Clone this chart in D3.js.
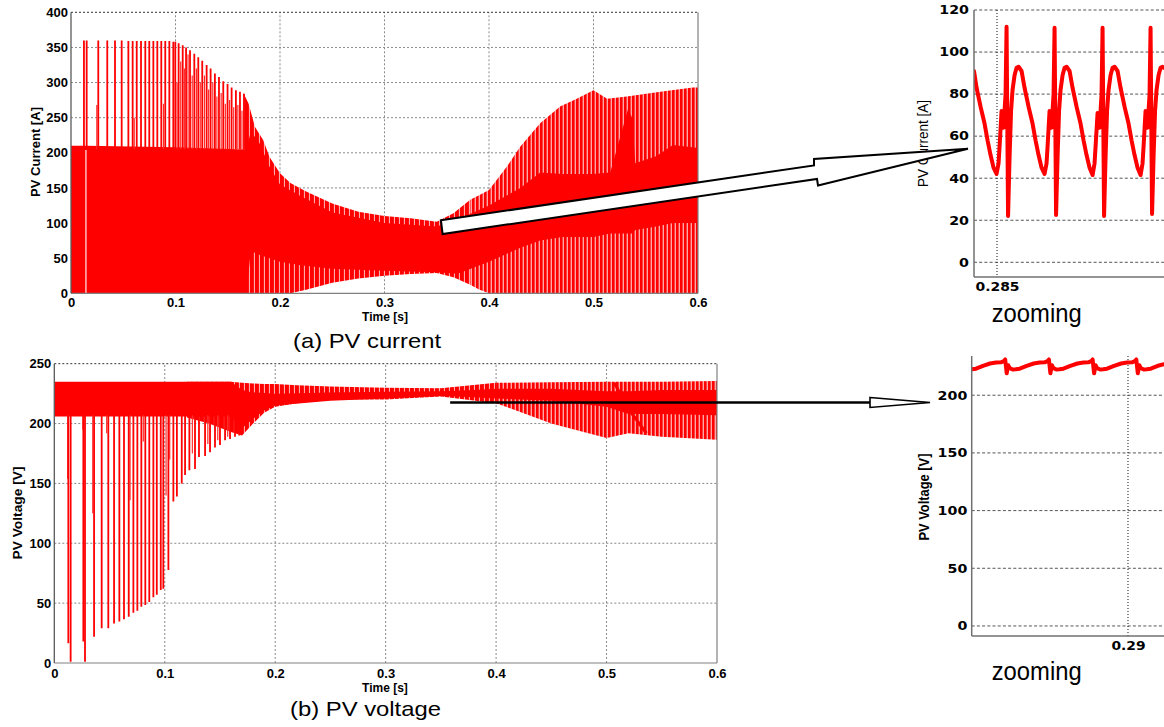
<!DOCTYPE html>
<html>
<head>
<meta charset="utf-8">
<script src="https://cdn.jsdelivr.net/npm/d3@7/dist/d3.min.js"></script>
<style>
html,body{margin:0;padding:0;background:#fff;}
svg{display:block;}
</style>
</head>
<body>
<svg id="chart" width="1164" height="727"></svg>
<script>
// ================= DATA =================
const timeTicks = [0, 0.1, 0.2, 0.3, 0.4, 0.5, 0.6];
const currentTicks = [0, 50, 100, 150, 200, 250, 300, 350, 400];
const voltageTicks = [0, 50, 100, 150, 200, 250];
const zoomCurrentTicks = [0, 20, 40, 60, 80, 100, 120];
const zoomVoltageTicks = [0, 50, 100, 150, 200];
const zoomCurrentTimeTicks = [0.285];
const zoomVoltageTimeTicks = [0.29];

// PV current: solid core of the switching band
const curCoreT  = [0, 0.015, 0.1, 0.16, 0.168, 0.172, 0.18, 0.19, 0.2, 0.22, 0.25, 0.3, 0.35, 0.37, 0.4, 0.43, 0.449, 0.47, 0.5, 0.516, 0.533, 0.537, 0.54, 0.56, 0.576, 0.6];
const curCoreHi = [210, 210, 208, 205, 205, 230, 215, 180, 155, 138, 115, 100, 95, 105, 125, 150, 172, 170, 170, 172, 262, 250, 185, 195, 211, 207];
const curCoreLo = [0, 0, 0, 0, 0, 60, 55, 50, 45, 40, 35, 32, 30, 28, 45, 65, 75, 80, 80, 85, 85, 85, 90, 95, 100, 100];
// PV current: outer envelope of the switching ripple
const curEnvT  = [0.165, 0.17, 0.176, 0.184, 0.19, 0.2, 0.21, 0.225, 0.25, 0.275, 0.3, 0.325, 0.35, 0.366, 0.382, 0.391, 0.4, 0.417, 0.43, 0.449, 0.468, 0.484, 0.5, 0.513, 0.532, 0.564, 0.595, 0.6];
const curEnvHi = [285, 270, 237, 218, 194, 171, 157, 145, 128, 116, 110, 107, 102, 114, 133, 140, 147, 180, 209, 242, 266, 277, 289, 277, 280, 287, 293, 293];
const curEnvLo = [0, 0, 0, 0, 0, 0, 0, 5, 15, 21, 25, 27.5, 29, 23, 12, 5, 0, 0, 0, 0, 0, 0, 0, 0, 0, 0, 0, 0];
// PV current: start-up spikes (time, peak)
const curSpikeT  = [0.0124, 0.015, 0.0261, 0.0347, 0.0421, 0.0485, 0.0549, 0.059, 0.0629, 0.067, 0.0711, 0.0749, 0.0788, 0.0826, 0.0864, 0.0902, 0.0941, 0.0979, 0.0998, 0.103, 0.1069, 0.1101, 0.1139, 0.118, 0.1218, 0.1256, 0.1298, 0.1336, 0.1377, 0.1416, 0.1457, 0.1498, 0.1537, 0.1578, 0.1617, 0.1656];
const curSpikePk = [360, 360, 360, 360, 360, 360, 359, 359, 359, 359, 359, 359, 359, 359, 359, 359, 359, 358, 358, 356, 353, 350, 346, 341, 336, 331, 325, 320, 313, 308, 302, 298, 293, 289, 287, 284];
const curSpike2T  = [0.0247, 0.0605, 0.0885, 0.1015, 0.105, 0.1085, 0.112, 0.116, 0.12, 0.1237, 0.1277, 0.1317, 0.1357, 0.1396, 0.1437, 0.1477, 0.1517, 0.1557, 0.1597, 0.1636];
const curSpike2Pk = [268, 250, 270, 300, 330, 320, 340, 310, 320, 300, 310, 290, 300, 280, 285, 270, 275, 265, 268, 260];
const curGapT = [0.0143];

// PV voltage: solid core band
const volCoreT  = [0, 0.16, 0.17, 0.18, 0.19, 0.2, 0.25, 0.3, 0.35, 0.38, 0.4, 0.45, 0.5, 0.52, 0.55, 0.6];
const volCoreHi = [235, 235, 228, 226, 225.5, 225, 226, 226.5, 227, 228, 229, 229, 227, 227, 228, 228];
const volCoreLo = [206, 206, 196, 204, 211, 215, 219, 221, 223, 222, 221, 219, 214, 208, 208, 207];
// PV voltage: outer envelope
const volEnvT  = [0.12, 0.14, 0.16, 0.17, 0.18, 0.19, 0.2, 0.22, 0.25, 0.3, 0.35, 0.4, 0.45, 0.5, 0.52, 0.55, 0.6];
const volEnvHi = [235, 235, 235, 234, 233.5, 233, 233, 232, 231, 230, 229.5, 234, 234.5, 235, 235, 235, 235.5];
const volEnvLo = [205, 200, 193, 190, 200, 209, 214, 217, 220, 220, 222.5, 217, 200, 188, 192, 189, 186.5];
// PV voltage: start-up dips (time, minimum)
const volSpikeT   = [0.0127, 0.0148, 0.0263, 0.0278, 0.036, 0.0429, 0.0489, 0.0541, 0.0589, 0.0631, 0.0674, 0.0716, 0.0752, 0.0788, 0.0824, 0.086, 0.0897, 0.0928, 0.0964, 0.0987, 0.1033, 0.1078, 0.111, 0.1154, 0.1184, 0.1223, 0.1274, 0.131, 0.1365, 0.141, 0.1455, 0.15, 0.1546, 0.1591, 0.1636, 0.1675];
const volSpikeMin = [16.5, 1, 18, 1, 22, 29, 29, 33, 34.6, 36.5, 38.6, 42, 43.6, 47, 48.5, 51, 55, 57, 61, 62, 77.6, 135, 139, 150, 157, 161, 162, 172, 173, 176, 180, 182, 186, 187, 189, 190];
const volSpike2T   = [0.0121, 0.0259, 0.0348, 0.0474, 0.0686, 0.0806, 0.1012, 0.1045, 0.125, 0.139, 0.148, 0.157];
const volSpike2Min = [154, 195, 125, 192, 136, 185, 140, 170, 175, 183, 186, 189];
const volTransT = [0.507, 0.52, 0.536];
const volTransV = [234, 212, 192];

// Zoomed PV current around t = 0.285 s
const zoomCurT = [0.2847604, 0.2847871, 0.2848288, 0.2848704, 0.2849017, 0.2849329, 0.2849642, 0.2849954,
  0.2850162, 0.2850267, 0.2850475, 0.2850683, 0.2850892, 0.2850996, 0.2851152, 0.2851308, 0.2851465, 0.2851621, 0.2851829, 0.2852038, 0.2852246, 0.2852558, 0.2852871, 0.2853288, 0.2853704, 0.2854017, 0.2854329, 0.2854642, 0.2854954,
  0.2855162, 0.2855267, 0.2855475, 0.2855683, 0.2855892, 0.2855996, 0.2856152, 0.2856308, 0.2856465, 0.2856621, 0.2856829, 0.2857038, 0.2857246, 0.2857558, 0.2857871, 0.2858288, 0.2858704, 0.2859017, 0.2859329, 0.2859642, 0.2859954,
  0.2860162, 0.2860267, 0.2860475, 0.2860683, 0.2860892, 0.2860996, 0.2861152, 0.2861308, 0.2861465, 0.2861621, 0.2861829, 0.2862038, 0.2862246, 0.2862558, 0.2862871, 0.2863288, 0.2863704, 0.2864017, 0.2864329, 0.2864642, 0.2864954,
  0.2865162, 0.2865267, 0.2865475, 0.2865683, 0.2865892, 0.2865996, 0.2866152, 0.2866308, 0.2866465, 0.2866621, 0.2866829, 0.2867038, 0.2867246, 0.2867396];
const zoomCurV = [91, 83, 74, 66, 58, 51, 45, 42,
  47, 55, 72, 64, 80, 112, 22, 50, 72, 82, 89, 92.5, 93, 91, 83, 74, 66, 58, 51, 45, 42,
  47, 55, 72, 64, 80, 111.5, 22.5, 50, 72, 82, 89, 92.5, 93, 91, 83, 74, 66, 58, 51, 45, 41.5,
  47, 55, 71, 64, 80, 111.5, 22, 50, 72, 82, 89, 92.5, 93, 91, 83, 74, 66, 58, 51, 45, 41.5,
  47, 55, 72, 64, 80, 111.5, 23, 50, 72, 82, 89, 92.5, 93, 92.5];

// Zoomed PV voltage around t = 0.29 s
const zoomVolT = [0.2882117, 0.2882609, 0.2883410, 0.2884211, 0.2884897, 0.2885469,
  0.2885778, 0.2885949, 0.2886121, 0.2886293, 0.2886464, 0.2886807, 0.2887151, 0.2887608, 0.2888409, 0.2889210, 0.2889897, 0.2890469,
  0.2890778, 0.2890949, 0.2891121, 0.2891293, 0.2891464, 0.2891807, 0.2892151, 0.2892608, 0.2893409, 0.2894210, 0.2894897, 0.2895469,
  0.2895778, 0.2895949, 0.2896121, 0.2896293, 0.2896464, 0.2896807, 0.2897151, 0.2897608, 0.2898409, 0.2899210, 0.2899897, 0.2900469,
  0.2900778, 0.2900949, 0.2901121, 0.2901293, 0.2901464, 0.2901807, 0.2902151, 0.2902608, 0.2903409, 0.2904119];
const zoomVolV = [222.5, 223, 225.5, 227.5, 228.3, 228.5,
  229.5, 231, 219, 226, 223.5, 222.3, 222.5, 223, 225.5, 227.5, 228.3, 228.5,
  229.5, 231, 219, 226, 223.5, 222.3, 222.5, 223, 225.5, 227.5, 228.3, 228.5,
  229.5, 231, 219, 226, 223.5, 222.3, 222.5, 223, 225.5, 227.5, 228.3, 228.5,
  229.5, 231, 219, 226, 223.5, 222.3, 222.5, 223, 225.5, 226.8];

// ================= RENDER =================
const svg = d3.select("#chart");
const RED = "#ff0000";
const MAINFONT = "'Liberation Sans', Arial, sans-serif";
const ZOOMFONT = "'DejaVu Sans', Verdana, sans-serif";
const defs = svg.append("defs");

function addStripe(id, w, red, gap) {
  const p = defs.append("pattern").attr("id", id).attr("patternUnits", "userSpaceOnUse")
    .attr("width", w).attr("height", 8);
  p.append("rect").attr("width", w).attr("height", 8).attr("fill", gap);
  p.append("rect").attr("width", red).attr("height", 8).attr("fill", RED);
}
addStripe("stripe", 4, 2.6, "#ffa6a6");
addStripe("stripeSparse", 5, 3.9, "#ffaaaa");

function addClip(id, x, y, w, h) {
  defs.append("clipPath").attr("id", id).append("rect")
    .attr("x", x).attr("y", y).attr("width", w).attr("height", h);
}

const zipBand = (t, hi, lo) => t.map((d, i) => ({ t: d, hi: hi[i], lo: lo[i] }));
const zipXY = (t, v) => t.map((d, i) => ({ t: d, v: v[i] }));

function band(g, x, y, data, fill) {
  g.append("path").datum(data)
    .attr("d", d3.area().x(d => x(d.t)).y0(d => y(d.lo)).y1(d => y(d.hi)))
    .attr("fill", fill);
}
function spikes(g, x, y, ts, vs, base, color, w) {
  g.append("g").selectAll("line").data(zipXY(ts, vs)).join("line")
    .attr("x1", d => x(d.t)).attr("x2", d => x(d.t))
    .attr("y1", y(base)).attr("y2", d => y(d.v))
    .attr("stroke", color).attr("stroke-width", w);
}
function styleText(sel, fam, size, weight) {
  sel.attr("font-family", fam).attr("font-size", size).attr("font-weight", weight).attr("fill", "#000");
}

// ---------- scales ----------
const xCur = d3.scaleLinear().domain([0, 0.6]).range([71, 698]);
const yCur = d3.scaleLinear().domain([0, 400]).range([293.3, 12.3]);
const xVol = d3.scaleLinear().domain([0, 0.6]).range([54.3, 717]);
const yVol = d3.scaleLinear().domain([0, 250]).range([663, 363.7]);
const xZc = d3.scaleLinear().domain([0.2847604, 0.2867396]).range([974, 1164]);
const yZc = d3.scaleLinear().domain([-7, 120]).range([277, 10]);
const xZv = d3.scaleLinear().domain([0.2882117, 0.2904119]).range([971.7, 1164]);
const yZv = d3.scaleLinear().domain([-8.7, 234]).range([636, 356]);

// ---------- main panel ----------
function mainPanel(o) {
  const g = svg.append("g");
  const [xa, xb] = o.x.range();
  const [yb, ya] = o.y.range();
  addClip(o.clip, xa, ya, xb - xa, yb - ya);
  g.append("g").selectAll("line").data(o.xTicks.filter(t => t > 0 && t < 0.6)).join("line")
    .attr("x1", d => o.x(d)).attr("x2", d => o.x(d)).attr("y1", yb).attr("y2", ya)
    .attr("stroke", "#8a8a8a").attr("stroke-width", 1).attr("stroke-dasharray", "2,2");
  g.append("g").selectAll("line").data(o.yTicks.filter(v => v > 0 && v < o.y.domain()[1])).join("line")
    .attr("x1", xa).attr("x2", xb).attr("y1", d => o.y(d)).attr("y2", d => o.y(d))
    .attr("stroke", "#8a8a8a").attr("stroke-width", 1).attr("stroke-dasharray", "2,2");
  const dl = g.append("g").attr("clip-path", `url(#${o.clip})`);
  o.draw(dl);
  // frame
  g.append("line").attr("x1", xa).attr("x2", xb).attr("y1", ya).attr("y2", ya)
    .attr("stroke", "#333").attr("stroke-dasharray", "2,2");
  g.append("line").attr("x1", xb).attr("x2", xb).attr("y1", ya).attr("y2", yb).attr("stroke", "#808080").attr("stroke-width", 1.2);
  g.append("line").attr("x1", xa).attr("x2", xb).attr("y1", yb).attr("y2", yb).attr("stroke", "#808080").attr("stroke-width", 1.2);
  g.append("line").attr("x1", xa).attr("x2", xa).attr("y1", ya).attr("y2", yb).attr("stroke", "#5a5a5a").attr("stroke-width", 1.3);
  // tick labels
  const ay = g.append("g").attr("transform", `translate(${xa},0)`)
    .call(d3.axisLeft(o.y).tickValues(o.yTicks).tickSize(0).tickPadding(3).tickFormat(d3.format("d")));
  ay.select(".domain").remove();
  styleText(ay.selectAll("text"), MAINFONT, 13, "bold");
  const ax = g.append("g").attr("transform", `translate(0,${yb})`)
    .call(d3.axisBottom(o.x).tickValues(o.xTicks).tickSize(0).tickPadding(o.padX).tickFormat(d => String(d)));
  ax.select(".domain").remove();
  styleText(ax.selectAll("text"), MAINFONT, 13, "bold");
  // axis titles
  styleText(g.append("text").attr("x", (xa + xb) / 2 + o.timeShift).attr("y", o.timeY)
    .attr("text-anchor", "middle").text("Time [s]"), MAINFONT, 12, "bold");
  styleText(g.append("text").attr("transform", `translate(${o.ylabX},${o.ylabY}) rotate(-90)`)
    .attr("text-anchor", "middle").attr("textLength", o.ylabLen).attr("lengthAdjust", "spacingAndGlyphs")
    .text(o.ylab), MAINFONT, 13, "bold");
}

const SPLIT = 0.382; // where the ripple turns from sparse gaps to regular stripes
mainPanel({
  x: xCur, y: yCur, xTicks: timeTicks, yTicks: currentTicks, clip: "clipCur", padX: 4,
  timeShift: 0.5, timeY: 320.5, ylab: "PV Current [A]", ylabX: 40, ylabY: 152, ylabLen: 90,
  draw: g => {
    const env = zipBand(curEnvT, curEnvHi, curEnvLo);
    band(g, xCur, yCur, env.filter(d => d.t <= SPLIT), "url(#stripeSparse)");
    band(g, xCur, yCur, env.filter(d => d.t >= SPLIT), "url(#stripe)");
    band(g, xCur, yCur, zipBand(curCoreT, curCoreHi, curCoreLo), RED);
    spikes(g, xCur, yCur, curSpike2T, curSpike2Pk, 205, "#ff2a2a", 1.2);
    spikes(g, xCur, yCur, curSpikeT, curSpikePk, 205, RED, 1.8);
    spikes(g, xCur, yCur, curGapT, curGapT.map(() => 204), 0, "#ffffff", 1.1);
  }
});

mainPanel({
  x: xVol, y: yVol, xTicks: timeTicks, yTicks: voltageTicks, clip: "clipVol", padX: 5.5,
  timeShift: -0.7, timeY: 692, ylab: "PV Voltage [V]", ylabX: 22, ylabY: 513, ylabLen: 93,
  draw: g => {
    const env = zipBand(volEnvT, volEnvHi, volEnvLo);
    band(g, xVol, yVol, env.filter(d => d.t <= 0.4), "url(#stripeSparse)");
    band(g, xVol, yVol, env.filter(d => d.t >= 0.4), "url(#stripe)");
    band(g, xVol, yVol, zipBand(volCoreT, volCoreHi, volCoreLo), RED);
    spikes(g, xVol, yVol, volSpike2T, volSpike2Min, 207, "#ff3030", 1.2);
    spikes(g, xVol, yVol, volSpikeT, volSpikeMin, 207, RED, 1.8);
    g.append("path").datum(zipXY(volTransT, volTransV))
      .attr("d", d3.line().x(d => xVol(d.t)).y(d => yVol(d.v)))
      .attr("fill", "none").attr("stroke", RED).attr("stroke-width", 3);
  }
});

// ---------- zoom panels ----------
function zoomPanel(o) {
  const g = svg.append("g");
  const [xa, xb] = o.x.range();
  const [yb, ya] = o.y.range();
  addClip(o.clip, xa, 0, xb - xa, yb);
  g.append("g").selectAll("line").data(o.yTicks).join("line")
    .attr("x1", xa).attr("x2", xb).attr("y1", d => o.y(d)).attr("y2", d => o.y(d))
    .attr("stroke", "#555").attr("stroke-width", 1).attr("stroke-dasharray", "3,2.2");
  g.append("g").selectAll("line").data(o.xTicks).join("line")
    .attr("x1", d => o.x(d)).attr("x2", d => o.x(d)).attr("y1", ya).attr("y2", yb)
    .attr("stroke", "#111").attr("stroke-width", 1).attr("stroke-dasharray", "1,2");
  g.append("g").attr("clip-path", `url(#${o.clip})`).append("path").datum(zipXY(o.t, o.v))
    .attr("d", d3.line().x(d => o.x(d.t)).y(d => o.y(d.v)))
    .attr("fill", "none").attr("stroke", RED).attr("stroke-width", 4)
    .attr("stroke-linejoin", "round").attr("stroke-linecap", "round");
  g.append("line").attr("x1", xa).attr("x2", xa).attr("y1", ya).attr("y2", yb).attr("stroke", "#707070").attr("stroke-width", 1.5);
  g.append("line").attr("x1", xa).attr("x2", xb).attr("y1", yb).attr("y2", yb).attr("stroke", "#707070").attr("stroke-width", 1.5);
  const ay = g.append("g").attr("transform", `translate(${xa},0)`)
    .call(d3.axisLeft(o.y).tickValues(o.yTicks).tickSize(0).tickPadding(o.padY).tickFormat(d3.format("d")));
  ay.select(".domain").remove();
  styleText(ay.selectAll("text"), ZOOMFONT, 12, "bold");
  ay.selectAll("text").attr("textLength", d => String(d).length * 9.9).attr("lengthAdjust", "spacingAndGlyphs");
  const ax = g.append("g").attr("transform", `translate(0,${yb})`)
    .call(d3.axisBottom(o.x).tickValues(o.xTicks).tickSize(0).tickPadding(5.5).tickFormat(d => String(d)));
  ax.select(".domain").remove();
  styleText(ax.selectAll("text"), ZOOMFONT, 12, "bold");
  ax.selectAll("text").attr("textLength", d => (String(d).length - 1) * 9.9 + 4.5).attr("lengthAdjust", "spacingAndGlyphs");
  styleText(g.append("text").attr("transform", `translate(${o.ylabX},${o.ylabY}) rotate(-90)`)
    .attr("text-anchor", "middle").attr("textLength", 87).attr("lengthAdjust", "spacingAndGlyphs")
    .text(o.ylab), MAINFONT, 14, o.ylabWeight);
  styleText(g.append("text").attr("x", o.zoomX).attr("y", o.zoomY)
    .attr("textLength", 90).attr("lengthAdjust", "spacingAndGlyphs").text("zooming"), MAINFONT, 25, "normal");
}

zoomPanel({
  x: xZc, y: yZc, xTicks: zoomCurrentTimeTicks, yTicks: zoomCurrentTicks, t: zoomCurT, v: zoomCurV,
  clip: "clipZc", padY: 5, ylab: "PV Current [A]", ylabX: 927.5, ylabY: 143.5, ylabWeight: "normal",
  zoomX: 991.7, zoomY: 322
});
zoomPanel({
  x: xZv, y: yZv, xTicks: zoomVoltageTimeTicks, yTicks: zoomVoltageTicks, t: zoomVolT, v: zoomVolV,
  clip: "clipZv", padY: 4.4, ylab: "PV Voltage [V]", ylabX: 928.5, ylabY: 497, ylabWeight: "bold",
  zoomX: 991.7, zoomY: 680
});

// ---------- captions ----------
styleText(svg.append("text").attr("x", 293).attr("y", 348).attr("textLength", 148)
  .attr("lengthAdjust", "spacingAndGlyphs").text("(a) PV current"), MAINFONT, 21, "normal");
styleText(svg.append("text").attr("x", 290).attr("y", 716).attr("textLength", 151)
  .attr("lengthAdjust", "spacingAndGlyphs").text("(b) PV voltage"), MAINFONT, 21, "normal");

// ---------- arrows ----------
const tailTop = [xCur(0.354), yCur(104)];
const tailBot = [xCur(0.3556), yCur(84.4)];
const tip = [xZc.range()[0] - 6, yZc(54)];
const slope = -0.147;
const stepTopX = 814, stepBotX = 817;
const topEnd = [stepTopX, tailTop[1] + (stepTopX - tailTop[0]) * slope];
const botEnd = [stepBotX, tailBot[1] + (stepBotX - tailBot[0]) * slope];
const arrowPts = [tailTop, topEnd, [topEnd[0], topEnd[1] - 6.5], tip, [botEnd[0] + 1, botEnd[1] + 6.5], botEnd, tailBot];
svg.append("path").attr("d", "M" + arrowPts.map(p => p.join(",")).join("L") + "Z")
  .attr("fill", "#fff").attr("stroke", "#000").attr("stroke-width", 2).attr("stroke-linejoin", "miter");

const shaftY = yVol(217.6);
const shaftX0 = xVol(0.3584);
const headBase = 870;
const tip2 = [xZv.range()[0] - 41.7, shaftY];
svg.append("line").attr("x1", shaftX0).attr("x2", headBase).attr("y1", shaftY).attr("y2", shaftY)
  .attr("stroke", "#000").attr("stroke-width", 2.6);
svg.append("path").attr("d", `M${headBase},${shaftY - 5}L${tip2[0]},${tip2[1]}L${headBase},${shaftY + 5}Z`)
  .attr("fill", "#fff").attr("stroke", "#000").attr("stroke-width", 1.6);
</script>
</body>
</html>
